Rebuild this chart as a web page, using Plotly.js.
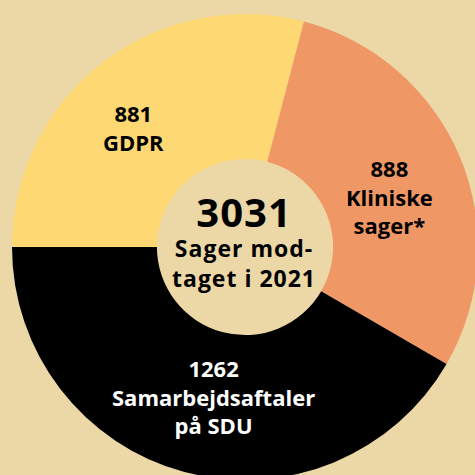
<!DOCTYPE html>
<html>
<head>
<meta charset="utf-8">
<script src="https://cdn.plot.ly/plotly-3.0.1.min.js"></script>
<style>
  html, body { margin: 0; padding: 0; width: 475px; height: 475px; overflow: hidden; background: #ecd7a6; }
  #chart { position: absolute; left: 0; top: 0; }
  .annotation[data-index="3"] text { letter-spacing: 1px; }
</style>
</head>
<body>
<div id="chart"></div>
<script>
// Data
const categories = ['GDPR', 'Kliniske sager*', 'Samarbejdsaftaler på SDU'];
const labelLines = [['GDPR'], ['Kliniske', 'sager*'], ['Samarbejdsaftaler', 'på SDU']];
const values = [881, 888, 1262];
const sliceColors = ['#fed872', '#f09766', '#000000'];
const labelColors = ['#000000', '#000000', '#ffffff'];
const centerCaption = ['Sager mod-', 'taget i 2021'];

const total = values.reduce((a, b) => a + b, 0);
const FONT = '"Open Sans", Lato, "DejaVu Sans", sans-serif';

// Label placement (paper coords inside the plot area)
const labelPos = [
  { x: 0.260, y: 0.757 },
  { x: 0.811, y: 0.609 },
  { x: 0.433, y: 0.180 }
];

const annotations = categories.map((c, i) => ({
  xref: 'paper', yref: 'paper',
  x: labelPos[i].x, y: labelPos[i].y,
  xanchor: 'center', yanchor: 'middle',
  showarrow: false,
  align: 'center',
  text: [String(values[i])].concat(labelLines[i]).map(s => '<b>' + s + '</b>').join('<br>'),
  font: { family: FONT, size: 22, color: labelColors[i] }
}));

annotations.push({
  xref: 'paper', yref: 'paper', x: 0.498, y: 0.517,
  xanchor: 'center', yanchor: 'middle', showarrow: false, align: 'center',
  text: '<b><span style="font-size:40px">' + total + '</span></b><br>' +
        centerCaption.map(s => '<b>' + s + '</b>').join('<br>'),
  font: { family: FONT, size: 23, color: '#000000' }
});

const data = [{
  type: 'pie',
  labels: categories,
  values: values,
  sort: false,
  direction: 'clockwise',
  rotation: -90,
  hole: 0.378,
  textinfo: 'none',
  hoverinfo: 'label+value',
  marker: { colors: sliceColors, line: { width: 0 } },
  showlegend: false
}];

const layout = {
  width: 490, height: 494,
  margin: { l: 12, r: 12, t: 14, b: 14, pad: 0 },
  paper_bgcolor: '#ecd7a6',
  plot_bgcolor: '#ecd7a6',
  showlegend: false,
  annotations: annotations
};

Plotly.newPlot('chart', data, layout, { displayModeBar: false, staticPlot: true });
</script>
</body>
</html>
